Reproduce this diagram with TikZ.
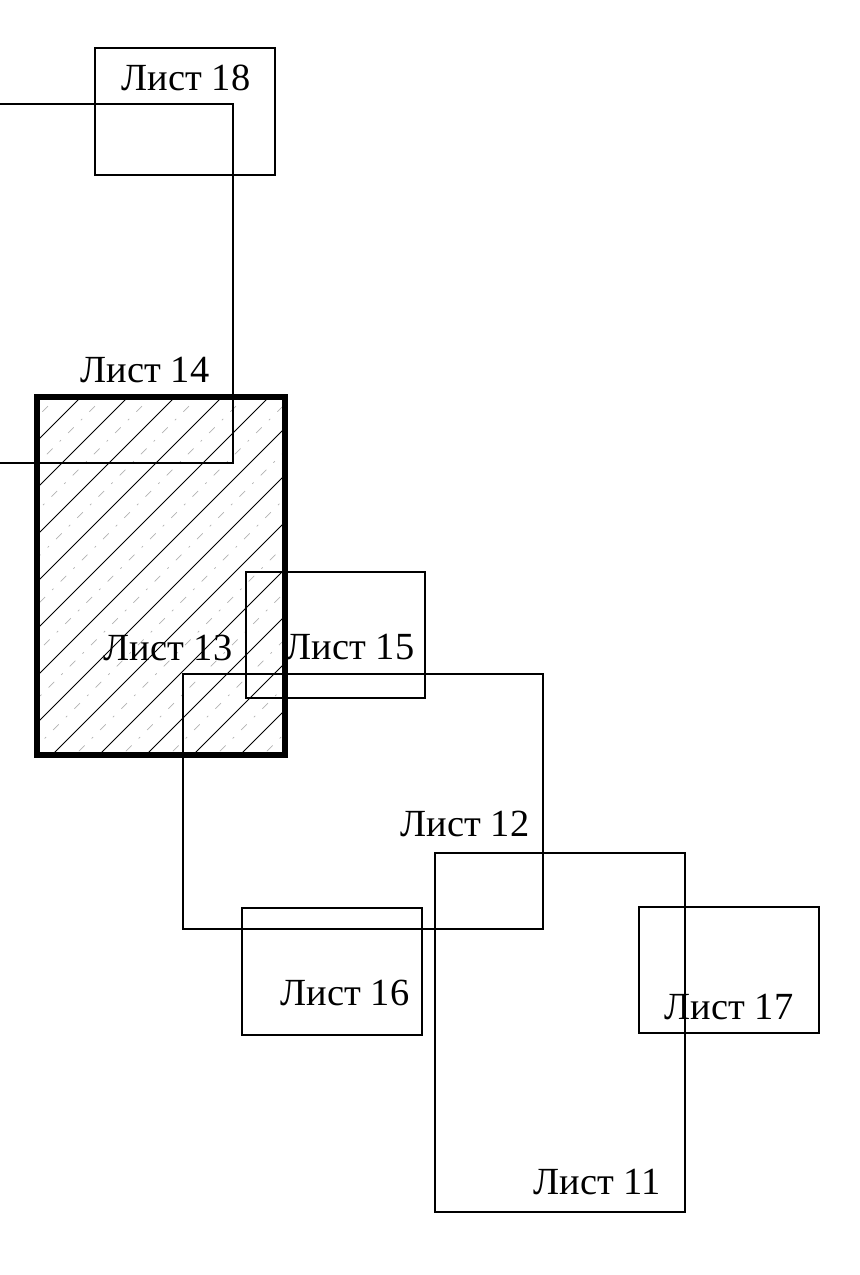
\documentclass[tikz,border=0pt]{standalone}
\usepackage{fontspec}
\setmainfont{Liberation Serif}
\usepackage{tikz}
\usetikzlibrary{calc}
\tikzset{
  sheetline/.style  = {draw=black, line width=1pt},
  activeline/.style = {draw=black, line width=2.6pt},
  hatchline/.style  = {draw=black, line width=0.5pt},
  hatchaux/.style   = {draw=black!30, line width=0.35pt,
                       dash pattern=on 4pt off 5pt on 1pt off 5pt},
}

\begin{document}
\begin{tikzpicture}[
            x=0.5pt, y=-0.5pt,
            every node/.style={font=\fontsize{19.2}{22}\selectfont, inner sep=0pt},
            lbl/.style={anchor=center}
        ]
        \useasboundingbox (0,0) rectangle (860,1275);

        %% --- Sheet 13: the highlighted one, hatched -----------------------
        \begin{scope}
            \clip (37,397) rectangle (285,755);
            \foreach \c in {431,478,...,1080}
                \draw[hatchline] (\c-300,300) -- (\c-800,800);
            \foreach \c in {454,501,...,1080}
                \draw[hatchaux] (\c-300,300) -- (\c-800,800);
        \end{scope}
        \draw[activeline] (37,397) rectangle (285,755);

        %% --- Plain sheets ---------------------------------------------------
        \draw[sheetline] (95,48) rectangle (275,175);      % 18
        \draw[sheetline] (0,104) -- (233,104) -- (233,463) -- (0,463); % 14
        \draw[sheetline] (246,572) rectangle (425,698);    % 15
        \draw[sheetline] (183,674) rectangle (543,929);    % 12
        \draw[sheetline] (242,908) rectangle (422,1035);   % 16
        \draw[sheetline] (435,853) rectangle (685,1212);   % 11
        \draw[sheetline] (639,907) rectangle (819,1033);   % 17

        %% --- Labels ---------------------------------------------------------
        \node[lbl] (l18) at (186,78)   {Лист 18};
        \node[lbl] (l14) at (145,370)  {Лист 14};
        \node[lbl] (l13) at (168,648)  {Лист 13};
        \node[lbl] (l15) at (350,647)  {Лист 15};
        \node[lbl] (l12) at (465,824)  {Лист 12};
        \node[lbl] (l16) at (345,993)  {Лист 16};
        \node[lbl] (l17) at (729,1007) {Лист 17};
        \node[lbl] (l11) at (597,1182) {Лист 11};

    \end{tikzpicture}
\end{document}
